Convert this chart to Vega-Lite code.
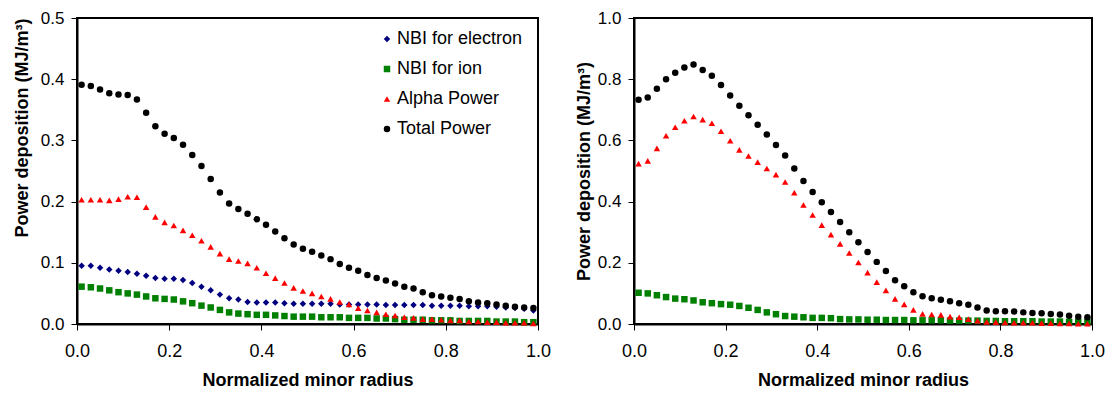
{
  "$schema": "https://vega.github.io/schema/vega-lite/v6.json",
  "padding": {"left": 12, "top": 8, "right": 3, "bottom": 0},
  "spacing": 22,
  "config": {
    "font": "Liberation Sans",
    "view": {"stroke": "black", "strokeWidth": 2},
    "axis": {"grid": false, "domainColor": "black", "domainWidth": 2, "tickColor": "black", "tickSize": 6, "tickWidth": 1,
      "labelFont": "Liberation Sans", "labelColor": "black", "labelFlush": false, "labelOverlap": false,
      "titleFont": "Liberation Sans", "titleFontSize": 18, "titleFontWeight": "bold", "titleColor": "black"},
    "axisX": {"labelPadding": 12, "titlePadding": 11, "labelFontSize": 18},
    "axisY": {"labelPadding": 7, "labelFontSize": 17}
  },
  "datasets": {
    "left": [
      {"x":0.01,"s":"e","y":0.095},{"x":0.03,"s":"e","y":0.095},{"x":0.05,"s":"e","y":0.092},{"x":0.07,"s":"e","y":0.089},{"x":0.09,"s":"e","y":0.087},
      {"x":0.11,"s":"e","y":0.085},{"x":0.13,"s":"e","y":0.082},{"x":0.15,"s":"e","y":0.079},{"x":0.17,"s":"e","y":0.075},{"x":0.19,"s":"e","y":0.074},
      {"x":0.21,"s":"e","y":0.074},{"x":0.23,"s":"e","y":0.072},{"x":0.25,"s":"e","y":0.067},{"x":0.27,"s":"e","y":0.061},{"x":0.29,"s":"e","y":0.055},
      {"x":0.31,"s":"e","y":0.048},{"x":0.33,"s":"e","y":0.042},{"x":0.35,"s":"e","y":0.040},{"x":0.37,"s":"e","y":0.036},{"x":0.39,"s":"e","y":0.035},
      {"x":0.41,"s":"e","y":0.035},{"x":0.43,"s":"e","y":0.035},{"x":0.45,"s":"e","y":0.034},{"x":0.47,"s":"e","y":0.033},{"x":0.49,"s":"e","y":0.033},
      {"x":0.51,"s":"e","y":0.033},{"x":0.53,"s":"e","y":0.033},{"x":0.55,"s":"e","y":0.033},{"x":0.57,"s":"e","y":0.032},{"x":0.59,"s":"e","y":0.032},
      {"x":0.61,"s":"e","y":0.032},{"x":0.63,"s":"e","y":0.032},{"x":0.65,"s":"e","y":0.032},{"x":0.67,"s":"e","y":0.031},{"x":0.69,"s":"e","y":0.031},
      {"x":0.71,"s":"e","y":0.031},{"x":0.73,"s":"e","y":0.031},{"x":0.75,"s":"e","y":0.031},{"x":0.77,"s":"e","y":0.030},{"x":0.79,"s":"e","y":0.030},
      {"x":0.81,"s":"e","y":0.030},{"x":0.83,"s":"e","y":0.030},{"x":0.85,"s":"e","y":0.029},{"x":0.87,"s":"e","y":0.029},{"x":0.89,"s":"e","y":0.029},
      {"x":0.91,"s":"e","y":0.028},{"x":0.93,"s":"e","y":0.027},{"x":0.95,"s":"e","y":0.026},{"x":0.97,"s":"e","y":0.025},{"x":0.99,"s":"e","y":0.022},
      {"x":0.01,"s":"i","y":0.061},{"x":0.03,"s":"i","y":0.060},{"x":0.05,"s":"i","y":0.058},{"x":0.07,"s":"i","y":0.055},{"x":0.09,"s":"i","y":0.052},
      {"x":0.11,"s":"i","y":0.050},{"x":0.13,"s":"i","y":0.048},{"x":0.15,"s":"i","y":0.045},{"x":0.17,"s":"i","y":0.042},{"x":0.19,"s":"i","y":0.041},
      {"x":0.21,"s":"i","y":0.040},{"x":0.23,"s":"i","y":0.037},{"x":0.25,"s":"i","y":0.034},{"x":0.27,"s":"i","y":0.030},{"x":0.29,"s":"i","y":0.027},
      {"x":0.31,"s":"i","y":0.023},{"x":0.33,"s":"i","y":0.019},{"x":0.35,"s":"i","y":0.017},{"x":0.37,"s":"i","y":0.016},{"x":0.39,"s":"i","y":0.015},
      {"x":0.41,"s":"i","y":0.015},{"x":0.43,"s":"i","y":0.014},{"x":0.45,"s":"i","y":0.013},{"x":0.47,"s":"i","y":0.012},{"x":0.49,"s":"i","y":0.012},
      {"x":0.51,"s":"i","y":0.012},{"x":0.53,"s":"i","y":0.011},{"x":0.55,"s":"i","y":0.011},{"x":0.57,"s":"i","y":0.011},{"x":0.59,"s":"i","y":0.010},
      {"x":0.61,"s":"i","y":0.010},{"x":0.63,"s":"i","y":0.010},{"x":0.65,"s":"i","y":0.009},{"x":0.67,"s":"i","y":0.009},{"x":0.69,"s":"i","y":0.008},
      {"x":0.71,"s":"i","y":0.007},{"x":0.73,"s":"i","y":0.007},{"x":0.75,"s":"i","y":0.007},{"x":0.77,"s":"i","y":0.006},{"x":0.79,"s":"i","y":0.006},
      {"x":0.81,"s":"i","y":0.006},{"x":0.83,"s":"i","y":0.005},{"x":0.85,"s":"i","y":0.005},{"x":0.87,"s":"i","y":0.005},{"x":0.89,"s":"i","y":0.005},
      {"x":0.91,"s":"i","y":0.004},{"x":0.93,"s":"i","y":0.004},{"x":0.95,"s":"i","y":0.004},{"x":0.97,"s":"i","y":0.003},{"x":0.99,"s":"i","y":0.003},
      {"x":0.01,"s":"a","y":0.203},{"x":0.03,"s":"a","y":0.203},{"x":0.05,"s":"a","y":0.203},{"x":0.07,"s":"a","y":0.202},{"x":0.09,"s":"a","y":0.204},
      {"x":0.11,"s":"a","y":0.208},{"x":0.13,"s":"a","y":0.207},{"x":0.15,"s":"a","y":0.191},{"x":0.17,"s":"a","y":0.175},{"x":0.19,"s":"a","y":0.166},
      {"x":0.21,"s":"a","y":0.161},{"x":0.23,"s":"a","y":0.153},{"x":0.25,"s":"a","y":0.145},{"x":0.27,"s":"a","y":0.136},{"x":0.29,"s":"a","y":0.126},
      {"x":0.31,"s":"a","y":0.115},{"x":0.33,"s":"a","y":0.106},{"x":0.35,"s":"a","y":0.103},{"x":0.37,"s":"a","y":0.099},{"x":0.39,"s":"a","y":0.092},
      {"x":0.41,"s":"a","y":0.083},{"x":0.43,"s":"a","y":0.075},{"x":0.45,"s":"a","y":0.067},{"x":0.47,"s":"a","y":0.059},{"x":0.49,"s":"a","y":0.054},
      {"x":0.51,"s":"a","y":0.050},{"x":0.53,"s":"a","y":0.045},{"x":0.55,"s":"a","y":0.041},{"x":0.57,"s":"a","y":0.036},{"x":0.59,"s":"a","y":0.032},
      {"x":0.61,"s":"a","y":0.026},{"x":0.63,"s":"a","y":0.022},{"x":0.65,"s":"a","y":0.019},{"x":0.67,"s":"a","y":0.016},{"x":0.69,"s":"a","y":0.014},
      {"x":0.71,"s":"a","y":0.011},{"x":0.73,"s":"a","y":0.010},{"x":0.75,"s":"a","y":0.008},{"x":0.77,"s":"a","y":0.008},{"x":0.79,"s":"a","y":0.007},
      {"x":0.81,"s":"a","y":0.006},{"x":0.83,"s":"a","y":0.006},{"x":0.85,"s":"a","y":0.004},{"x":0.87,"s":"a","y":0.004},{"x":0.89,"s":"a","y":0.003},
      {"x":0.91,"s":"a","y":0.003},{"x":0.93,"s":"a","y":0.002},{"x":0.95,"s":"a","y":0.002},{"x":0.97,"s":"a","y":0.002},{"x":0.99,"s":"a","y":0.001},
      {"x":0.01,"s":"t","y":0.391},{"x":0.03,"s":"t","y":0.389},{"x":0.05,"s":"t","y":0.383},{"x":0.07,"s":"t","y":0.377},{"x":0.09,"s":"t","y":0.375},
      {"x":0.11,"s":"t","y":0.374},{"x":0.13,"s":"t","y":0.367},{"x":0.15,"s":"t","y":0.345},{"x":0.17,"s":"t","y":0.323},{"x":0.19,"s":"t","y":0.311},
      {"x":0.21,"s":"t","y":0.304},{"x":0.23,"s":"t","y":0.293},{"x":0.25,"s":"t","y":0.276},{"x":0.27,"s":"t","y":0.258},{"x":0.29,"s":"t","y":0.237},
      {"x":0.31,"s":"t","y":0.215},{"x":0.33,"s":"t","y":0.197},{"x":0.35,"s":"t","y":0.188},{"x":0.37,"s":"t","y":0.180},{"x":0.39,"s":"t","y":0.171},
      {"x":0.41,"s":"t","y":0.162},{"x":0.43,"s":"t","y":0.151},{"x":0.45,"s":"t","y":0.140},{"x":0.47,"s":"t","y":0.130},{"x":0.49,"s":"t","y":0.123},
      {"x":0.51,"s":"t","y":0.118},{"x":0.53,"s":"t","y":0.112},{"x":0.55,"s":"t","y":0.106},{"x":0.57,"s":"t","y":0.098},{"x":0.59,"s":"t","y":0.092},
      {"x":0.61,"s":"t","y":0.087},{"x":0.63,"s":"t","y":0.080},{"x":0.65,"s":"t","y":0.075},{"x":0.67,"s":"t","y":0.071},{"x":0.69,"s":"t","y":0.066},
      {"x":0.71,"s":"t","y":0.061},{"x":0.73,"s":"t","y":0.058},{"x":0.75,"s":"t","y":0.052},{"x":0.77,"s":"t","y":0.047},{"x":0.79,"s":"t","y":0.045},
      {"x":0.81,"s":"t","y":0.043},{"x":0.83,"s":"t","y":0.041},{"x":0.85,"s":"t","y":0.037},{"x":0.87,"s":"t","y":0.035},{"x":0.89,"s":"t","y":0.034},
      {"x":0.91,"s":"t","y":0.032},{"x":0.93,"s":"t","y":0.030},{"x":0.95,"s":"t","y":0.028},{"x":0.97,"s":"t","y":0.027},{"x":0.99,"s":"t","y":0.026}
    ],
    "right": [
      {"x":0.01,"s":"i","y":0.102},{"x":0.03,"s":"i","y":0.100},{"x":0.05,"s":"i","y":0.094},{"x":0.07,"s":"i","y":0.088},{"x":0.09,"s":"i","y":0.083},
      {"x":0.11,"s":"i","y":0.081},{"x":0.13,"s":"i","y":0.077},{"x":0.15,"s":"i","y":0.071},{"x":0.17,"s":"i","y":0.068},{"x":0.19,"s":"i","y":0.065},
      {"x":0.21,"s":"i","y":0.063},{"x":0.23,"s":"i","y":0.059},{"x":0.25,"s":"i","y":0.053},{"x":0.27,"s":"i","y":0.046},{"x":0.29,"s":"i","y":0.038},
      {"x":0.31,"s":"i","y":0.032},{"x":0.33,"s":"i","y":0.026},{"x":0.35,"s":"i","y":0.024},{"x":0.37,"s":"i","y":0.022},{"x":0.39,"s":"i","y":0.020},
      {"x":0.41,"s":"i","y":0.020},{"x":0.43,"s":"i","y":0.019},{"x":0.45,"s":"i","y":0.016},{"x":0.47,"s":"i","y":0.015},{"x":0.49,"s":"i","y":0.015},
      {"x":0.51,"s":"i","y":0.014},{"x":0.53,"s":"i","y":0.014},{"x":0.55,"s":"i","y":0.013},{"x":0.57,"s":"i","y":0.013},{"x":0.59,"s":"i","y":0.013},
      {"x":0.61,"s":"i","y":0.012},{"x":0.63,"s":"i","y":0.012},{"x":0.65,"s":"i","y":0.012},{"x":0.67,"s":"i","y":0.012},{"x":0.69,"s":"i","y":0.011},
      {"x":0.71,"s":"i","y":0.011},{"x":0.73,"s":"i","y":0.011},{"x":0.75,"s":"i","y":0.011},{"x":0.77,"s":"i","y":0.010},{"x":0.79,"s":"i","y":0.010},
      {"x":0.81,"s":"i","y":0.009},{"x":0.83,"s":"i","y":0.009},{"x":0.85,"s":"i","y":0.009},{"x":0.87,"s":"i","y":0.009},{"x":0.89,"s":"i","y":0.008},
      {"x":0.91,"s":"i","y":0.008},{"x":0.93,"s":"i","y":0.008},{"x":0.95,"s":"i","y":0.007},{"x":0.97,"s":"i","y":0.007},{"x":0.99,"s":"i","y":0.007},
      {"x":0.01,"s":"a","y":0.524},{"x":0.03,"s":"a","y":0.533},{"x":0.05,"s":"a","y":0.574},{"x":0.07,"s":"a","y":0.615},{"x":0.09,"s":"a","y":0.643},
      {"x":0.11,"s":"a","y":0.664},{"x":0.13,"s":"a","y":0.678},{"x":0.15,"s":"a","y":0.668},{"x":0.17,"s":"a","y":0.656},{"x":0.19,"s":"a","y":0.630},
      {"x":0.21,"s":"a","y":0.599},{"x":0.23,"s":"a","y":0.569},{"x":0.25,"s":"a","y":0.549},{"x":0.27,"s":"a","y":0.529},{"x":0.29,"s":"a","y":0.508},
      {"x":0.31,"s":"a","y":0.488},{"x":0.33,"s":"a","y":0.464},{"x":0.35,"s":"a","y":0.429},{"x":0.37,"s":"a","y":0.389},{"x":0.39,"s":"a","y":0.356},
      {"x":0.41,"s":"a","y":0.323},{"x":0.43,"s":"a","y":0.292},{"x":0.45,"s":"a","y":0.262},{"x":0.47,"s":"a","y":0.232},{"x":0.49,"s":"a","y":0.201},
      {"x":0.51,"s":"a","y":0.168},{"x":0.53,"s":"a","y":0.137},{"x":0.55,"s":"a","y":0.110},{"x":0.57,"s":"a","y":0.082},{"x":0.59,"s":"a","y":0.064},
      {"x":0.61,"s":"a","y":0.046},{"x":0.63,"s":"a","y":0.033},{"x":0.65,"s":"a","y":0.031},{"x":0.67,"s":"a","y":0.030},{"x":0.69,"s":"a","y":0.024},
      {"x":0.71,"s":"a","y":0.022},{"x":0.73,"s":"a","y":0.016},{"x":0.75,"s":"a","y":0.011},{"x":0.77,"s":"a","y":0.007},{"x":0.79,"s":"a","y":0.006},
      {"x":0.81,"s":"a","y":0.005},{"x":0.83,"s":"a","y":0.004},{"x":0.85,"s":"a","y":0.004},{"x":0.87,"s":"a","y":0.004},{"x":0.89,"s":"a","y":0.003},
      {"x":0.91,"s":"a","y":0.003},{"x":0.93,"s":"a","y":0.002},{"x":0.95,"s":"a","y":0.002},{"x":0.97,"s":"a","y":0.001},{"x":0.99,"s":"a","y":0.001},
      {"x":0.01,"s":"t","y":0.733},{"x":0.03,"s":"t","y":0.740},{"x":0.05,"s":"t","y":0.769},{"x":0.07,"s":"t","y":0.800},{"x":0.09,"s":"t","y":0.821},
      {"x":0.11,"s":"t","y":0.838},{"x":0.13,"s":"t","y":0.848},{"x":0.15,"s":"t","y":0.830},{"x":0.17,"s":"t","y":0.811},{"x":0.19,"s":"t","y":0.781},
      {"x":0.21,"s":"t","y":0.747},{"x":0.23,"s":"t","y":0.713},{"x":0.25,"s":"t","y":0.682},{"x":0.27,"s":"t","y":0.651},{"x":0.29,"s":"t","y":0.619},
      {"x":0.31,"s":"t","y":0.585},{"x":0.33,"s":"t","y":0.551},{"x":0.35,"s":"t","y":0.508},{"x":0.37,"s":"t","y":0.467},{"x":0.39,"s":"t","y":0.431},
      {"x":0.41,"s":"t","y":0.398},{"x":0.43,"s":"t","y":0.366},{"x":0.45,"s":"t","y":0.333},{"x":0.47,"s":"t","y":0.300},{"x":0.49,"s":"t","y":0.267},
      {"x":0.51,"s":"t","y":0.235},{"x":0.53,"s":"t","y":0.203},{"x":0.55,"s":"t","y":0.173},{"x":0.57,"s":"t","y":0.143},{"x":0.59,"s":"t","y":0.123},
      {"x":0.61,"s":"t","y":0.104},{"x":0.63,"s":"t","y":0.091},{"x":0.65,"s":"t","y":0.084},{"x":0.67,"s":"t","y":0.079},{"x":0.69,"s":"t","y":0.074},
      {"x":0.71,"s":"t","y":0.068},{"x":0.73,"s":"t","y":0.063},{"x":0.75,"s":"t","y":0.054},{"x":0.77,"s":"t","y":0.044},{"x":0.79,"s":"t","y":0.042},
      {"x":0.81,"s":"t","y":0.042},{"x":0.83,"s":"t","y":0.041},{"x":0.85,"s":"t","y":0.038},{"x":0.87,"s":"t","y":0.036},{"x":0.89,"s":"t","y":0.035},
      {"x":0.91,"s":"t","y":0.033},{"x":0.93,"s":"t","y":0.031},{"x":0.95,"s":"t","y":0.027},{"x":0.97,"s":"t","y":0.024},{"x":0.99,"s":"t","y":0.022}
    ]
  },
  "resolve": {"scale": {"color": "independent", "shape": "independent", "size": "independent"}, "legend": {"color": "independent", "shape": "independent"}},
  "hconcat": [
    {
      "width": 461, "height": 306,
      "data": {"name": "left"},
      "mark": {"type": "point", "filled": true, "opacity": 1},
      "encoding": {
        "x": {"field": "x", "type": "quantitative", "scale": {"domain": [0, 1], "nice": false},
          "axis": {"title": "Normalized minor radius", "values": [0, 0.2, 0.4, 0.6, 0.8, 1.0], "format": ".1f"}},
        "y": {"field": "y", "type": "quantitative", "scale": {"domain": [0, 0.5], "nice": false},
          "axis": {"title": "Power deposition (MJ/m³)", "values": [0, 0.1, 0.2, 0.3, 0.4, 0.5], "format": ".1f", "titleAnchor": "end", "titlePadding": 9}},
        "size": {"field": "s", "type": "nominal", "scale": {"domain": ["e", "i", "a", "t"], "range": [42, 42, 62, 50]}, "legend": null},
        "color": {"field": "s", "type": "nominal",
          "scale": {"domain": ["e", "i", "a", "t"], "range": ["#000080", "#008000", "#ff0000", "#000000"]},
          "legend": {"title": null, "orient": "none", "legendX": 301, "legendY": 12, "padding": 0, "rowPadding": 12, "symbolSize": 22, "symbolOpacity": 1,
            "labelFontSize": 18, "labelFont": "Liberation Sans", "labelColor": "black", "labelOffset": 1,
            "labelExpr": "datum.label == 'e' ? 'NBI for electron' : datum.label == 'i' ? 'NBI for ion' : datum.label == 'a' ? 'Alpha Power' : 'Total Power'"}},
        "shape": {"field": "s", "type": "nominal",
          "scale": {"domain": ["e", "i", "a", "t"], "range": ["diamond", "square", "triangle-up", "circle"]},
          "legend": {"title": null, "orient": "none", "legendX": 301, "legendY": 12, "padding": 0, "rowPadding": 12, "symbolSize": 22, "symbolOpacity": 1,
            "labelFontSize": 18, "labelFont": "Liberation Sans", "labelColor": "black", "labelOffset": 1,
            "labelExpr": "datum.label == 'e' ? 'NBI for electron' : datum.label == 'i' ? 'NBI for ion' : datum.label == 'a' ? 'Alpha Power' : 'Total Power'"}}
      }
    },
    {
      "width": 458, "height": 306,
      "data": {"name": "right"},
      "mark": {"type": "point", "filled": true, "opacity": 1},
      "encoding": {
        "x": {"field": "x", "type": "quantitative", "scale": {"domain": [0, 1], "nice": false},
          "axis": {"title": "Normalized minor radius", "values": [0, 0.2, 0.4, 0.6, 0.8, 1.0], "format": ".1f"}},
        "y": {"field": "y", "type": "quantitative", "scale": {"domain": [0, 1], "nice": false},
          "axis": {"title": "Power deposition (MJ/m³)", "values": [0, 0.2, 0.4, 0.6, 0.8, 1.0], "format": ".1f", "titlePadding": 4}},
        "size": {"field": "s", "type": "nominal", "scale": {"domain": ["e", "i", "a", "t"], "range": [42, 42, 62, 50]}, "legend": null},
        "color": {"field": "s", "type": "nominal",
          "scale": {"domain": ["e", "i", "a", "t"], "range": ["#000080", "#008000", "#ff0000", "#000000"]}, "legend": null},
        "shape": {"field": "s", "type": "nominal",
          "scale": {"domain": ["e", "i", "a", "t"], "range": ["diamond", "square", "triangle-up", "circle"]}, "legend": null}
      }
    }
  ]
}
